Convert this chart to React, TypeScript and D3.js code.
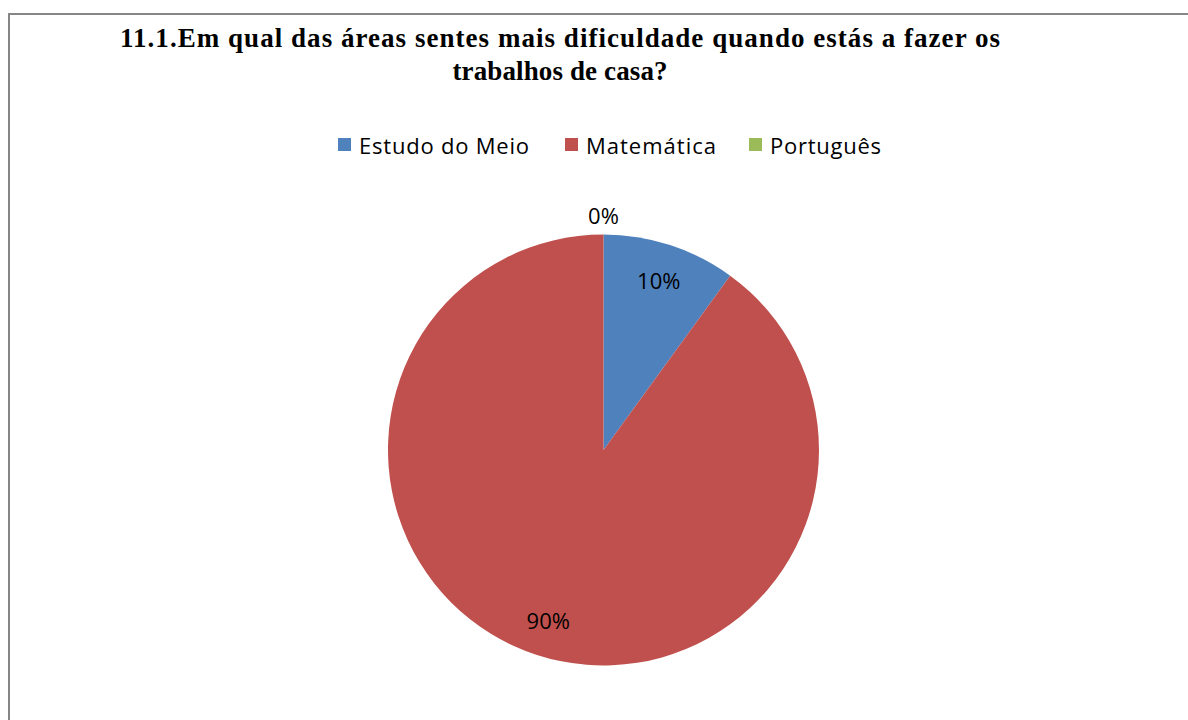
import React from "react";
import * as d3 from "d3";

const categories = ["Estudo do Meio", "Matemática", "Português"];
const values = [10, 90, 0];
const colors = ["#4F81BD", "#C0504D", "#9BBB59"];
const titleLines = [
  "11.1.Em qual das áreas sentes mais dificuldade quando estás a fazer os",
  "trabalhos de casa?",
];

export default function App() {
  const W = 1188;
  const H = 720;
  const cx = 603.5;
  const cy = 450;
  const r = 215.5;
  const pie = d3.pie<number>().sort(null).value((d) => d);
  const arcs = pie(values);
  const arcGen = d3.arc<d3.PieArcDatum<number>>().innerRadius(0).outerRadius(r);
  const total = d3.sum(values);
  const fmt = (v: number) => `${Math.round((v / total) * 100)}%`;

  const labelPos = (a: d3.PieArcDatum<number>) => {
    const mid = (a.startAngle + a.endAngle) / 2;
    let rr = r * 0.83;
    if (a.endAngle - a.startAngle === 0) rr = r + 20;
    return [cx + rr * Math.sin(mid), cy - rr * Math.cos(mid)];
  };

  const legendFont = "'Open Sans', Lato, sans-serif";
  const legendItems = [
    { x: 338, w: 170 },
    { x: 565, w: 130 },
    { x: 749, w: 111 },
  ];

  return (
    <svg
      width={W}
      height={H}
      style={{ position: "absolute", left: 0, top: 0, background: "#fff" }}
    >
      <rect x={0} y={0} width={W} height={H} fill="#fff" />
      <path d={`M9,${H + 5} V14 H${W + 5}`} fill="none" stroke="#868686" strokeWidth={2} />
      {titleLines.map((t, i) => (
        <text
          key={i}
          x={560}
          y={47 + i * 33}
          textAnchor="middle"
          fontFamily="Liberation Serif, Times New Roman, serif"
          fontWeight="bold"
          fontSize={27}
          fill="#000"
          textLength={i === 0 ? 880 : 215}
          lengthAdjust="spacing"
        >
          {t}
        </text>
      ))}
      {categories.map((c, i) => (
        <g key={c}>
          <rect x={legendItems[i].x} y={138} width={13} height={13} fill={colors[i]} />
          <text
            x={legendItems[i].x + 21}
            y={154}
            fontFamily={legendFont}
            fontSize={22}
            fill="#000"
            textLength={legendItems[i].w}
            lengthAdjust="spacing"
          >
            {c}
          </text>
        </g>
      ))}
      <g transform={`translate(${cx},${cy})`}>
        {arcs.map((a, i) =>
          a.endAngle - a.startAngle > 0 ? (
            <path key={i} d={arcGen(a) || ""} fill={colors[i]} />
          ) : null
        )}
      </g>
      {arcs.map((a, i) => {
        const [lx, ly] = labelPos(a);
        return (
          <text
            key={i}
            x={lx}
            y={ly}
            textAnchor="middle"
            dominantBaseline="central"
            fontFamily={legendFont}
            fontSize={22}
            fill="#000"
          >
            {fmt(values[i])}
          </text>
        );
      })}
    </svg>
  );
}
